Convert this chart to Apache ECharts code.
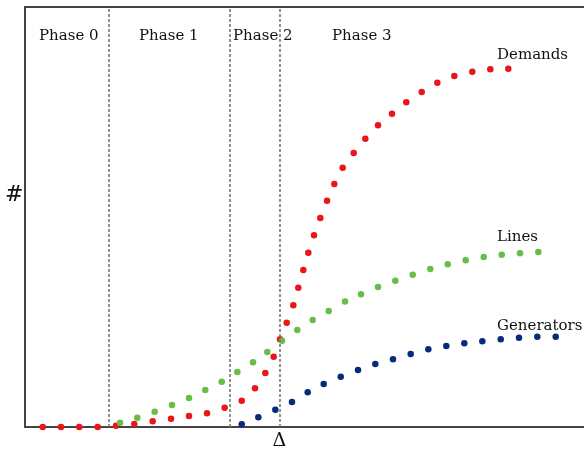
<!DOCTYPE html>
<html>
<head>
<meta charset="utf-8">
<script src="https://cdn.jsdelivr.net/npm/echarts@6/dist/echarts.min.js"></script>
<style>html,body{margin:0;padding:0;background:#fff}#c{width:584px;height:452px}</style>
</head>
<body>
<div id="c"></div>
<script>
// Phase boundaries (x values)
const phaseBounds = [14.97, 36.67, 45.49];
const phaseNames = ['Phase 0', 'Phase 1', 'Phase 2', 'Phase 3'];
const seriesNames = ['Demands', 'Lines', 'Generators'];
const deltaLabel = 'Δ';
const yLabel = '#';

const demandsX = [3.17,6.44,9.71,13.0,16.28,19.55,22.84,26.12,29.34,32.56,35.72,38.77,41.14,42.99,44.49,45.62,46.82,48.0,48.89,49.79,50.68,51.70,52.83,54.03,55.33,56.83,58.80,60.88,63.15,65.65,68.21,70.97,73.76,76.8,80.02,83.24,86.46];
const demandsY = [0,0,0,0,0.31,0.71,1.36,1.98,2.62,3.26,4.60,6.26,9.21,12.86,16.74,20.88,24.83,28.98,33.17,37.38,41.50,45.64,49.76,53.88,57.86,61.74,65.24,68.64,71.83,74.6,77.31,79.76,81.98,83.57,84.6,85.17,85.31];

const linesX = [17.0,20.09,23.2,26.3,29.34,32.25,35.19,37.98,40.79,43.35,45.97,48.71,51.47,54.33,57.25,60.11,63.15,66.24,69.36,72.5,75.62,78.84,82.06,85.28,88.55,91.83];
const linesY = [1.02,2.21,3.64,5.24,6.9,8.81,10.79,13.1,15.4,17.86,20.55,23.1,25.48,27.62,29.88,31.6,33.33,34.83,36.26,37.62,38.74,39.69,40.48,41.02,41.36,41.67];

const generatorsX = [38.77,41.74,44.78,47.76,50.57,53.43,56.48,59.57,62.67,65.83,69.0,72.15,75.37,78.59,81.81,85.1,88.37,91.65,94.94];
const generatorsY = [0.64,2.31,4.12,5.95,8.26,10.24,11.98,13.57,15.0,16.12,17.38,18.5,19.29,19.93,20.4,20.88,21.26,21.5,21.5];

const zip = (xs, ys) => xs.map((x, i) => [x, ys[i]]);
const colors = ['#ec1418', '#68bc48', '#072b7a'];
const serif = 'DejaVu Serif';

const chart = echarts.init(document.getElementById('c'), null, {renderer: 'canvas'});

const txt = (left, top, text, size, style) => ({
  type: 'text', left: left, top: top,
  style: {text: text, font: (style || '') + ' ' + size + 'px "' + serif + '"', fill: '#111'}
});

const dotSeries = (i, xs, ys) => ({
  name: seriesNames[i], type: 'scatter', symbolSize: 6.5,
  itemStyle: {color: colors[i], opacity: 1}, data: zip(xs, ys)
});

chart.setOption({
  animation: false,
  backgroundColor: '#fff',
  grid: {left: 25, right: 0, top: 7, bottom: 25, containLabel: false},
  xAxis: [{
    type: 'value', min: 0, max: 100,
    splitLine: {show: false}, axisTick: {show: false},
    axisLine: {show: true, lineStyle: {color: '#444', width: 2}},
    axisLabel: {
      show: true, customValues: [phaseBounds[2]], formatter: () => deltaLabel,
      margin: 5, fontSize: 19, fontFamily: serif, color: '#111'
    }
  }, {
    type: 'value', position: 'top', min: 0, max: 100,
    splitLine: {show: false}, axisTick: {show: false}, axisLabel: {show: false},
    axisLine: {show: true, onZero: false, lineStyle: {color: '#444', width: 2}}
  }],
  yAxis: {
    type: 'value', min: 0, max: 100,
    splitLine: {show: false}, axisTick: {show: false}, axisLabel: {show: false},
    axisLine: {show: true, lineStyle: {color: '#444', width: 2}}
  },
  series: [
    {
      name: 'bounds', type: 'scatter', data: [], silent: true,
      markLine: {
        silent: true, symbol: ['none', 'none'],
        lineStyle: {color: '#777', width: 1.6, type: [3, 2]},
        label: {show: false},
        data: phaseBounds.map(v => ({xAxis: v}))
      }
    },
    dotSeries(0, demandsX, demandsY),
    dotSeries(1, linesX, linesY),
    dotSeries(2, generatorsX, generatorsY)
  ],
  graphic: [
    txt(39, 29, phaseNames[0], 15),
    txt(139, 29, phaseNames[1], 15),
    txt(233, 29, phaseNames[2], 15),
    txt(332, 29, phaseNames[3], 15),
    txt(497, 48, seriesNames[0], 15),
    txt(497, 230, seriesNames[1], 15),
    txt(497, 319, seriesNames[2], 15),
    txt(5, 184, yLabel, 22, 'italic')
  ]
});
</script>
</body>
</html>
